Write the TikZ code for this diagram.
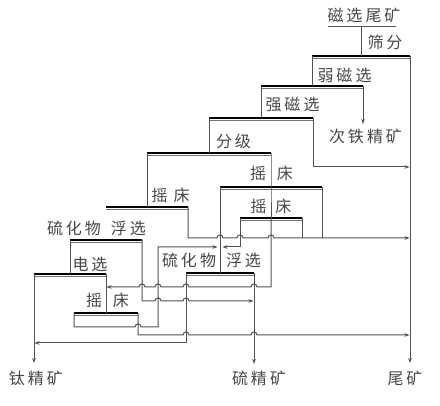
\documentclass[tikz,border=0pt]{standalone}
\usepackage{fontspec}
\setmainfont{Noto Sans CJK SC}
\usetikzlibrary{arrows.meta}

% one operation: thick bar with a thin line under it
\newcommand{\opbar}[4]{%
  \draw[bar top] (#2,#4) -- (#3,#4);
  \draw[bar low] (#2,#4+2.6) -- (#3,#4+2.6);
  \coordinate (#1L) at (#2,#4);
  \coordinate (#1R) at (#3,#4);
  \coordinate (#1M) at ({(#2+#3)/2},#4);
}
% jumps over a vertical line, going right / going left
\newcommand{\hopr}[2]{-- ({#1-3},#2) .. controls ({#1-3},{#2-4}) and ({#1+3},{#2-4}) .. ({#1+3},#2)}
\newcommand{\hopl}[2]{-- ({#1+3},#2) .. controls ({#1+3},{#2-4}) and ({#1-3},{#2-4}) .. ({#1-3},#2)}
\newcommand{\cjsp}{\hspace{3pt}}

\begin{document}
\begin{tikzpicture}[x=1pt,y=-1pt,>={Stealth[length=5pt,width=3.6pt]},
      flow/.style={draw=black!68,line width=1pt},
      bar top/.style={draw=black,line width=2.4pt},
      bar low/.style={draw=black!55,line width=0.7pt},
      lbl/.style={font=\fontsize{16}{18}\selectfont,text=black!72,inner sep=0pt}]
  \useasboundingbox (0,0) rectangle (440,406);
  % operations
  \opbar{sf}{312}{410}{56}
  \opbar{rc}{261}{363}{86}
  \opbar{qc}{209}{313}{118}
  \opbar{fj}{147}{271}{153}
  \opbar{yl}{106}{188}{207}
  \opbar{ya}{220}{322}{187}
  \opbar{yb}{240}{302}{218}
  \opbar{fa}{70}{142}{240}
  \opbar{dx}{34}{106}{274}
  \opbar{yc}{74}{138}{313}
  \opbar{fb}{186}{254}{273}
  % labels
  \node[lbl] (feed_t) at (364,15) {磁\cjsp 选\cjsp 尾\cjsp 矿};
  \node[lbl] (sf_t) at (385,42) {筛\cjsp 分};
  \node[lbl] (rc_t) at (344.5,75) {弱\cjsp 磁\cjsp 选};
  \node[lbl] (qc_t) at (292.5,104.5) {强\cjsp 磁\cjsp 选};
  \node[lbl] (fe_t) at (365.5,136.5) {次\cjsp 铁\cjsp 精\cjsp 矿};
  \node[lbl] (fj_t) at (233.5,141.5) {分\cjsp 级};
  \node[lbl] (yl_t) at (170.5,195) {摇\hspace{6pt}床};
  \node[lbl] (ya_t) at (271.5,173.5) {摇\hspace{11pt}床};
  \node[lbl] (yb_t) at (271,206.5) {摇\hspace{9pt}床};
  \node[lbl] (fa_t) at (96.5,228.5) {硫\cjsp 化\cjsp 物\hspace{10pt}浮\cjsp 选};
  \node[lbl] (dx_t) at (90,264.5) {电\cjsp 选};
  \node[lbl] (yc_t) at (107.5,300.5) {摇\hspace{11pt}床};
  \node[lbl] (fb_t) at (211.5,260.5) {硫\cjsp 化\cjsp 物\hspace{10pt}浮\cjsp 选};
  \node[lbl] (ti_t) at (36,378) {钛\cjsp 精\cjsp 矿};
  \node[lbl] (s_t) at (259,378) {硫\cjsp 精\cjsp 矿};
  \node[lbl] (tl_t) at (405,378) {尾\cjsp 矿};
  % feed
  \coordinate (feedL) at (328,27);
  \coordinate (feedR) at (396,27);
  \coordinate (feed) at (361,27);
  \draw[flow] (feedL) -- (feedR);
  \draw[flow] (feed) -- (sfM);
  % magnetic part
  \draw[flow] (sfL) -- (rcM);
  \draw[flow,->] (sfR) -- (410,363);
  \draw[flow,->] (rcR) -- (363,124);
  \draw[flow] (rcL) -- (qcM);
  \draw[flow,->] (qcR) |- (409.5,167);
  \draw[flow] (qcL) -- (fjM);
  % tables
  \draw[flow] (fjL) -- (ylM);
  \draw[flow] (fjR) -- (yaM) -- (ybM);
  \draw[flow,->] (ybM) -- (271,287) \hopl{254}{287} \hopl{186}{287} \hopl{158}{287} \hopl{142}{287} -- (106.5,287);
  \draw[flow,->] (ylR) -- (188,238) \hopr{220}{238} \hopr{240}{238} \hopr{271}{238} -- (409.5,238);
  \draw[flow] (yaR) -- (322,238);
  \draw[flow] (ybR) -- (302,238);
  \draw[flow] (yaL) -- (fbM);
  \draw[flow,->] (ybL) -- (240,247) -- (222.5,247);
  \draw[flow,->] (ycL) -- (74,327) \hopr{138}{327} -- (158,327) -- (158,247) -- (217.5,247);
  \draw[flow,->] (ycR) -- (138,335) \hopr{186}{335} \hopr{254}{335} -- (409.5,335);
  % flotation and electric
  \draw[flow] (faL) -- (dxM);
  \draw[flow,->] (faR) -- (142,301) \hopr{158}{301} \hopr{186}{301} -- (253.5,301);
  \draw[flow] (dxR) -- (ycM);
  \draw[flow,->] (dxL) -- (34,363);
  \draw[flow,->] (fbL) -- (186,343) -- (34.5,343);
  \draw[flow,->] (fbR) -- (254,364);
\end{tikzpicture}
\end{document}
